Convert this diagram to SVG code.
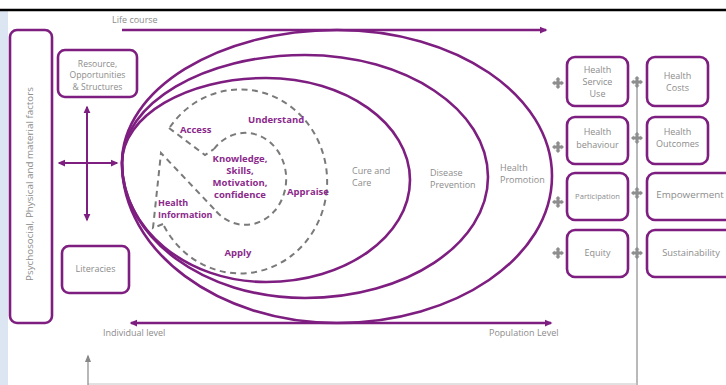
<svg xmlns="http://www.w3.org/2000/svg" width="726" height="385" viewBox="0 0 726 385">
<defs>
<style>
.p{fill:none;stroke:#7e1e80;stroke-width:2.6}
.box{fill:#fff;stroke:#7e1e80;stroke-width:2.6}
.ar{fill:none;stroke:#7e1e80;stroke-width:2}
.d{fill:none;stroke:#7a7a7a;stroke-width:2;stroke-dasharray:6 4.5}
.g{font-family:"Open Sans","Liberation Sans",sans-serif;fill:#8c8c8c;font-size:9px}
.b{font-family:"Open Sans","Liberation Sans",sans-serif;fill:#8b2a8c;font-size:9.5px;font-weight:bold}
.m{text-anchor:middle}
.plus{fill:#8e8e8e}
</style>
<marker id="ah" viewBox="0 0 10 10" refX="8" refY="5" markerWidth="7.5" markerHeight="7.5" orient="auto-start-reverse" markerUnits="userSpaceOnUse">
<path d="M0,0.5 L10,5 L0,9.5 Z" fill="#7e1e80"/>
</marker>
<marker id="ahg" viewBox="0 0 10 10" refX="8" refY="5" markerWidth="8" markerHeight="8" orient="auto" markerUnits="userSpaceOnUse">
<path d="M0,1 L10,5 L0,9 Z" fill="#888"/>
</marker>
<symbol id="plus" viewBox="-6 -6 12 12" overflow="visible">
<path d="M0,-6 L2.6,-3.4 L1.5,-3.4 L1.5,-1.5 L3.4,-1.5 L3.4,-2.6 L6,0 L3.4,2.6 L3.4,1.5 L1.5,1.5 L1.5,3.4 L2.6,3.4 L0,6 L-2.6,3.4 L-1.5,3.4 L-1.5,1.5 L-3.4,1.5 L-3.4,2.6 L-6,0 L-3.4,-2.6 L-3.4,-1.5 L-1.5,-1.5 L-1.5,-3.4 L-2.6,-3.4 Z"/>
</symbol>
</defs>
<rect x="0" y="0" width="726" height="385" fill="#fff"/>
<rect x="0" y="11" width="8" height="374" fill="#dce5f2"/>
<line x1="0" y1="10" x2="726" y2="10" stroke="#000" stroke-width="2.5"/>

<g id="connectors">
<line x1="637" y1="78" x2="637" y2="385" stroke="#8a8a8a" stroke-width="1.2"/>
<line x1="88" y1="384" x2="637" y2="384" stroke="#c4c4c4" stroke-width="1"/>
<line x1="88" y1="385" x2="88" y2="356" stroke="#888" stroke-width="1.2" marker-end="url(#ahg)"/>
<line x1="122" y1="30" x2="546" y2="30" class="ar" style="stroke-width:2.4" marker-end="url(#ah)"/>
<line x1="131" y1="323" x2="551" y2="323" class="ar" style="stroke-width:2.4" marker-start="url(#ah)" marker-end="url(#ah)"/>
<line x1="59" y1="163" x2="117" y2="163" class="ar" marker-start="url(#ah)" marker-end="url(#ah)"/>
<line x1="87" y1="107" x2="87" y2="220" class="ar" marker-start="url(#ah)" marker-end="url(#ah)"/>
</g>

<g id="ellipses">
<path class="p" d="M122,163 C122,89.5 218.3,30 337,30 C455.7,30 552,95.4 552,176 C552,257.2 455.7,323 337,323 C218.3,323 122,251.4 122,163 Z"/>
<path class="p" d="M122,163 C122,103.4 204,55 305,55 C406,55 488,109.6 488,177 C488,243.8 406,298 305,298 C204,298 122,237.6 122,163 Z"/>
<path class="p" d="M122,163 C122,116 186.5,78 266,78 C345.5,78 410,123.7 410,180 C410,236.3 345.5,282 266,282 C186.5,282 122,228.7 122,163 Z"/>
</g>

<g id="dashed">
<path class="d" d="M170,127 A87,92 0 1 1 163,224"/>
<path class="d" d="M169,128 L205,155 L214,149"/>
<path class="d" d="M214,149 A41,46 0 1 1 215,210"/>
<path class="d" d="M163,224 L153,228 L161,153 L215,210"/>
</g>

<g id="node-factors">
<rect class="box" x="10" y="30" width="42" height="293" rx="7"/>
<text class="g" style="font-size:9.8px" text-anchor="middle" transform="translate(33,184) rotate(-90)">Psychosocial, Physical and material factors</text>
</g>
<g id="node-resource">
<rect class="box" x="58" y="50" width="79" height="47" rx="7"/>
<text class="g m" x="97.5" y="66.5" style="font-size:8.6px">Resource,</text>
<text class="g m" x="97.5" y="78" style="font-size:8.6px">Opportunities</text>
<text class="g m" x="97.5" y="89.5" style="font-size:8.6px">&amp; Structures</text>
</g>
<g id="node-literacies">
<rect class="box" x="62" y="246" width="67" height="47" rx="7"/>
<text class="g m" x="95.5" y="272">Literacies</text>
</g>

<g id="labels">
<text class="g" x="112" y="23">Life course</text>
<text class="g" x="352" y="174">Cure and</text>
<text class="g" x="352" y="186">Care</text>
<text class="g" x="430" y="176">Disease</text>
<text class="g" x="430" y="188">Prevention</text>
<text class="g" x="500" y="171">Health</text>
<text class="g" x="500" y="183">Promotion</text>
<text class="g" x="103" y="336">Individual level</text>
<text class="g" x="489" y="336">Population Level</text>
<text class="b" x="180" y="133">Access</text>
<text class="b" x="248" y="123">Understand</text>
<text class="b m" x="240" y="162">Knowledge,</text>
<text class="b m" x="240" y="174">Skills,</text>
<text class="b m" x="240" y="186">Motivation,</text>
<text class="b m" x="240" y="198">confidence</text>
<text class="b" x="287" y="195">Appraise</text>
<text class="b" x="158" y="206" style="font-size:9px">Health</text>
<text class="b" x="158" y="218" style="font-size:9px">Information</text>
<text class="b m" x="238" y="256">Apply</text>
</g>

<g id="node-service-use">
<rect class="box" x="567" y="57" width="61" height="49" rx="8"/>
<text class="g m" x="597.5" y="73">Health</text>
<text class="g m" x="597.5" y="85">Service</text>
<text class="g m" x="597.5" y="97">Use</text>
</g>
<g id="node-behaviour">
<rect class="box" x="567" y="117" width="61" height="47" rx="8"/>
<text class="g m" x="597.5" y="135">Health</text>
<text class="g m" x="597.5" y="148">behaviour</text>
</g>
<g id="node-participation">
<rect class="box" x="567" y="173" width="61" height="47" rx="8"/>
<text class="g m" x="597.5" y="199" style="font-size:7.6px">Participation</text>
</g>
<g id="node-equity">
<rect class="box" x="567" y="230" width="61" height="47" rx="8"/>
<text class="g m" x="597.5" y="256">Equity</text>
</g>
<g id="node-costs">
<rect class="box" x="647" y="57" width="61" height="49" rx="8"/>
<text class="g m" x="677.5" y="79">Health</text>
<text class="g m" x="677.5" y="91">Costs</text>
</g>
<g id="node-outcomes">
<rect class="box" x="647" y="117" width="61" height="47" rx="8"/>
<text class="g m" x="677.5" y="135">Health</text>
<text class="g m" x="677.5" y="147">Outcomes</text>
</g>
<g id="node-empowerment">
<rect class="box" x="647" y="173" width="88" height="47" rx="8"/>
<text class="g m" x="690" y="198" style="font-size:9.8px">Empowerment</text>
</g>
<g id="node-sustainability">
<rect class="box" x="647" y="230" width="88" height="47" rx="8"/>
<text class="g m" x="691" y="256" style="font-size:9.3px">Sustainability</text>
</g>

<g id="plus-icons" class="plus">
<use href="#plus" x="552" y="77" width="12" height="12"/>
<use href="#plus" x="552" y="141" width="12" height="12"/>
<use href="#plus" x="552" y="196" width="12" height="12"/>
<use href="#plus" x="552" y="247" width="12" height="12"/>
<use href="#plus" x="631" y="76" width="12" height="12"/>
<use href="#plus" x="631" y="132" width="12" height="12"/>
<use href="#plus" x="631" y="187" width="12" height="12"/>
<use href="#plus" x="631" y="247" width="12" height="12"/>
</g>
</svg>
